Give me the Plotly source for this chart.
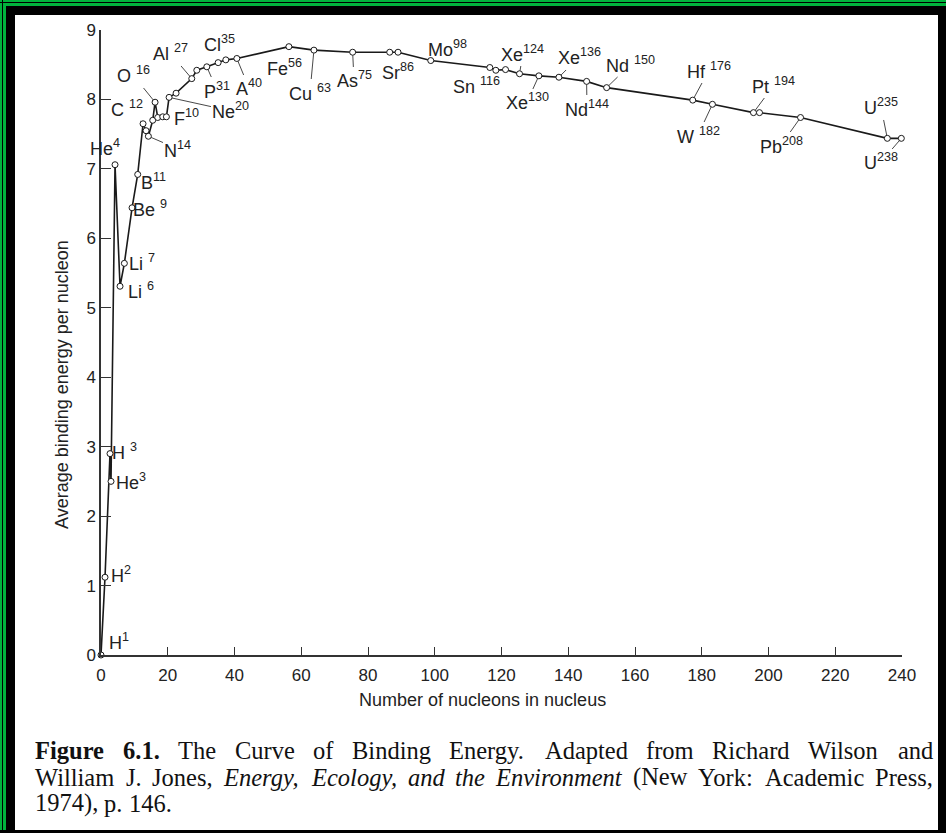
import plotly.graph_objects as go

# ---------------- data ----------------
mass_number = [0, 1.2, 2.7, 3.0, 4.2, 5.7, 7.0, 9.3, 11.0, 12.6, 13.5, 14.2, 15.5, 16.2,
               17.0, 18.5, 19.6, 20.4, 22.5, 27.2, 28.7, 31.7, 35.1, 37.4, 40.7,
               56.3, 63.8, 75.4, 86.5, 89.0, 98.8, 116.5, 118.3, 121.2, 125.4,
               131.2, 137.2, 145.5, 151.5, 177.3, 183.2, 195.5, 197.3, 209.6,
               235.6, 239.8]
binding_energy = [0.0, 1.12, 2.90, 2.50, 7.06, 5.31, 5.64, 6.44, 6.92, 7.65, 7.55, 7.47,
                  7.70, 7.96, 7.74, 7.75, 7.75, 8.03, 8.09, 8.30, 8.42, 8.47, 8.53,
                  8.57, 8.59, 8.76, 8.71, 8.68, 8.68, 8.68, 8.56, 8.46, 8.42, 8.43,
                  8.37, 8.34, 8.32, 8.26, 8.17, 7.99, 7.93, 7.81, 7.81, 7.74, 7.44,
                  7.44]

label_element = ["H", "H", "H ", "He", "He", "Li ", "Li ", "Be ", "B", "C ", "N", "O ",
                 "F", "Ne", "Al ", "P", "Cl", "A", "Fe", "Cu ", "As", "Sr", "Mo", "Sn ",
                 "Xe", "Xe", "Xe", "Nd", "Nd ", "Hf ", "W ", "Pt ", "Pb", "U", "U"]
label_sup = ["1", "2", "3", "3", "4", "7", "6", "9", "11", "12", "14", "16", "10", "20",
             "27", "31", "35", "40", "56", "63", "75", "86", "98", "116", "124", "130",
             "136", "144", "150", "176", "182", "194", "208", "235", "238"]
# index into the point arrays that each label refers to
label_point = [0, 1, 2, 3, 4, 6, 5, 7, 8, 9, 11, 13, 16, 17, 19, 21, 22, 24, 25, 26, 27,
               28, 30, 31, 34, 35, 36, 37, 38, 39, 40, 41, 43, 44, 45]

x_ticks = list(range(0, 241, 20))
y_ticks = list(range(0, 10))

x_title = "Number of nucleons in nucleus"
y_title = "Average binding energy per nucleon"
# caption words: (text, style) with style "b" bold, "i" italic, "" regular
caption_words = [
    [("Figure", "b"), ("6.1.", "b"), ("The", ""), ("Curve", ""), ("of", ""), ("Binding", ""),
     ("Energy.", ""), ("Adapted", ""), ("from", ""), ("Richard", ""), ("Wilson", ""), ("and", "")],
    [("William", ""), ("J.", ""), ("Jones,", ""), ("Energy,", "i"), ("Ecology,", "i"),
     ("and", "i"), ("the", "i"), ("Environment", "i"), ("(New", ""), ("York:", ""),
     ("Academic", ""), ("Press,", "")],
    [("1974),", ""), ("p.", ""), ("146.", "")],
]
caption_justify = [True, True, False]

# ---------------- layout geometry (pixels) ----------------
W, H = 946, 833
ML, MR, MT, MB = 101, 44, 30, 178
PW, PH = W - ML - MR, H - MT - MB


def px_x(p):
    return (p - ML) / PW


def px_y(p):
    return (H - MB - p) / PH


# Times-compatible advance widths (1/1000 em) to justify caption lines
_REG = dict(zip("abcdefghijklmnopqrstuvwxyz",
                [444, 500, 444, 500, 444, 333, 500, 500, 278, 278, 500, 278, 778, 500, 500,
                 500, 500, 333, 389, 278, 500, 500, 722, 500, 500, 444]))
_REG.update(dict(zip("ABCDEFGHIJKLMNOPQRSTUVWXYZ",
                     [722, 667, 667, 722, 611, 556, 722, 722, 333, 389, 722, 611, 889, 722,
                      722, 556, 722, 667, 556, 611, 722, 722, 944, 722, 722, 611])))
_REG.update({c: 500 for c in "0123456789"})
_REG.update({".": 250, ",": 250, ":": 278, "(": 333, ")": 333, " ": 250})
_BOLD = dict(_REG)
_BOLD.update({"F": 611, "u": 556, "r": 444})
_ITAL = dict(_REG)
_ITAL.update({"r": 389, "y": 444, "a": 500, "v": 444, "m": 722, "E": 611})


def word_width(w, style, size):
    table = {"b": _BOLD, "i": _ITAL}.get(style, _REG)
    return sum(table.get(c, 500) for c in w) / 1000 * size


CAP_SIZE = 24.5
CAP_LEFT, CAP_RIGHT = 33, 931
caption_line_y = [750, 777, 803]

# label placement: (text centre pixel x, y, leader line?)
label_place = [
    (119, 641, False), (121, 575, False), (125, 452, False), (131, 481, False),
    (105, 148, False), (142, 263, False), (141, 290, False), (150, 208, False),
    (154, 182, False), (127, 108, True), (178, 149, True), (133, 75, True),
    (186, 117, False), (231, 111, True), (170, 53, True), (217, 90, True),
    (219, 43, False), (249, 88, True), (285, 67, False), (310, 92, True),
    (354, 80, True), (398, 72, False), (447, 48, False), (476, 85, False),
    (523, 53, True), (527, 102, True), (579, 57, True), (587, 108, True),
    (631, 64, True), (709, 70, True), (698, 135, True), (774, 85, True),
    (781, 145, True), (881, 107, True), (881, 162, True),
]

fig = go.Figure()
fig.add_trace(go.Scatter(
    x=mass_number, y=binding_energy, mode="lines",
    line=dict(color="#1a1a1a", width=1.6),
    cliponaxis=False, hoverinfo="skip", showlegend=False,
))
fig.add_trace(go.Scatter(
    x=mass_number, y=binding_energy, mode="markers",
    marker=dict(symbol="circle", size=6, color="white",
                line=dict(color="#1a1a1a", width=1.0)),
    cliponaxis=False, hoverinfo="skip", showlegend=False,
))

label_font = dict(family="Liberation Sans, Arial, sans-serif", size=18, color="#222")
ann = []
for el, sp, pi, (cx, cy, leader) in zip(label_element, label_sup, label_point, label_place):
    x0, y0 = mass_number[pi], binding_energy[pi]
    ppx = ML + (x0 / 240) * PW
    ppy = H - MB - (y0 / 9) * PH
    txt = f"{el}<sup>{sp}</sup>"
    if leader:
        ann.append(dict(x=x0, y=y0, xref="x", yref="y", text=txt, showarrow=True,
                        ax=cx - ppx, ay=cy - ppy, arrowhead=0, arrowwidth=0.9,
                        arrowcolor="#333", standoff=3, font=label_font))
    else:
        ann.append(dict(x=x0, y=y0, xref="x", yref="y", text=txt, showarrow=False,
                        xshift=cx - ppx, yshift=ppy - cy, font=label_font))

cap_font = dict(family="Liberation Serif, Times New Roman, serif", size=CAP_SIZE, color="#111")
for words, just, cy in zip(caption_words, caption_justify, caption_line_y):
    widths = [word_width(w, s, CAP_SIZE) for w, s in words]
    if just and len(words) > 1:
        gap = (CAP_RIGHT - CAP_LEFT - sum(widths)) / (len(words) - 1)
    else:
        gap = 0.25 * CAP_SIZE
    x = CAP_LEFT
    for (w, s), wd in zip(words, widths):
        txt = f"<b>{w}</b>" if s == "b" else (f"<i>{w}</i>" if s == "i" else w)
        ann.append(dict(x=px_x(x), y=px_y(cy), xref="paper", yref="paper", text=txt,
                        showarrow=False, xanchor="left", yanchor="middle", font=cap_font))
        x += wd + gap

title_font = dict(family="Liberation Sans, Arial", size=18, color="#222")
ann.append(dict(x=px_x(482), y=px_y(700), xref="paper", yref="paper", text=x_title,
                showarrow=False, xanchor="center", yanchor="middle", font=title_font))
ann.append(dict(x=px_x(62), y=px_y(385), xref="paper", yref="paper", text=y_title,
                textangle=-90, showarrow=False, xanchor="center", yanchor="middle",
                font=title_font))


# frame bands (pixel rectangles)
def band(x0, y0, x1, y1, color):
    return dict(type="rect", xref="paper", yref="paper", x0=px_x(x0), x1=px_x(x1),
                y0=px_y(y0), y1=px_y(y1), fillcolor=color, line=dict(width=0), layer="above")


green, black = "#00b33c", "#000000"
shapes = [
    band(0, 0, 6, H, green), band(0, 0, W, 6, green),
    band(2, 0, 3, H, black), band(0, 2, W, 3, black),
    band(6, 6, 15, H, black), band(6, 6, W, 15, black),
    band(0, 830, W, H, black),
    band(938, 6, W, 830, black),
]

tick_font = dict(family="Liberation Sans, Arial", size=17, color="#222")
fig.update_layout(
    width=W, height=H, margin=dict(l=ML, r=MR, t=MT, b=MB),
    paper_bgcolor="white", plot_bgcolor="white",
    annotations=ann, shapes=shapes,
    xaxis=dict(range=[0, 240], tickvals=x_ticks, ticks="inside", ticklen=8,
               tickcolor="#333", showline=True, linecolor="#333", linewidth=1.5,
               showgrid=False, zeroline=False, tickfont=tick_font, ticklabelstandoff=4),
    yaxis=dict(range=[0, 9], tickvals=y_ticks, ticks="inside", ticklen=10,
               tickcolor="#333", showline=True, linecolor="#333", linewidth=1.5,
               showgrid=False, zeroline=False, tickfont=tick_font),
)

fig.write_html("out.html", config={"displayModeBar": False},
               post_script="document.body.style.margin='0';document.body.style.overflow='hidden';")
